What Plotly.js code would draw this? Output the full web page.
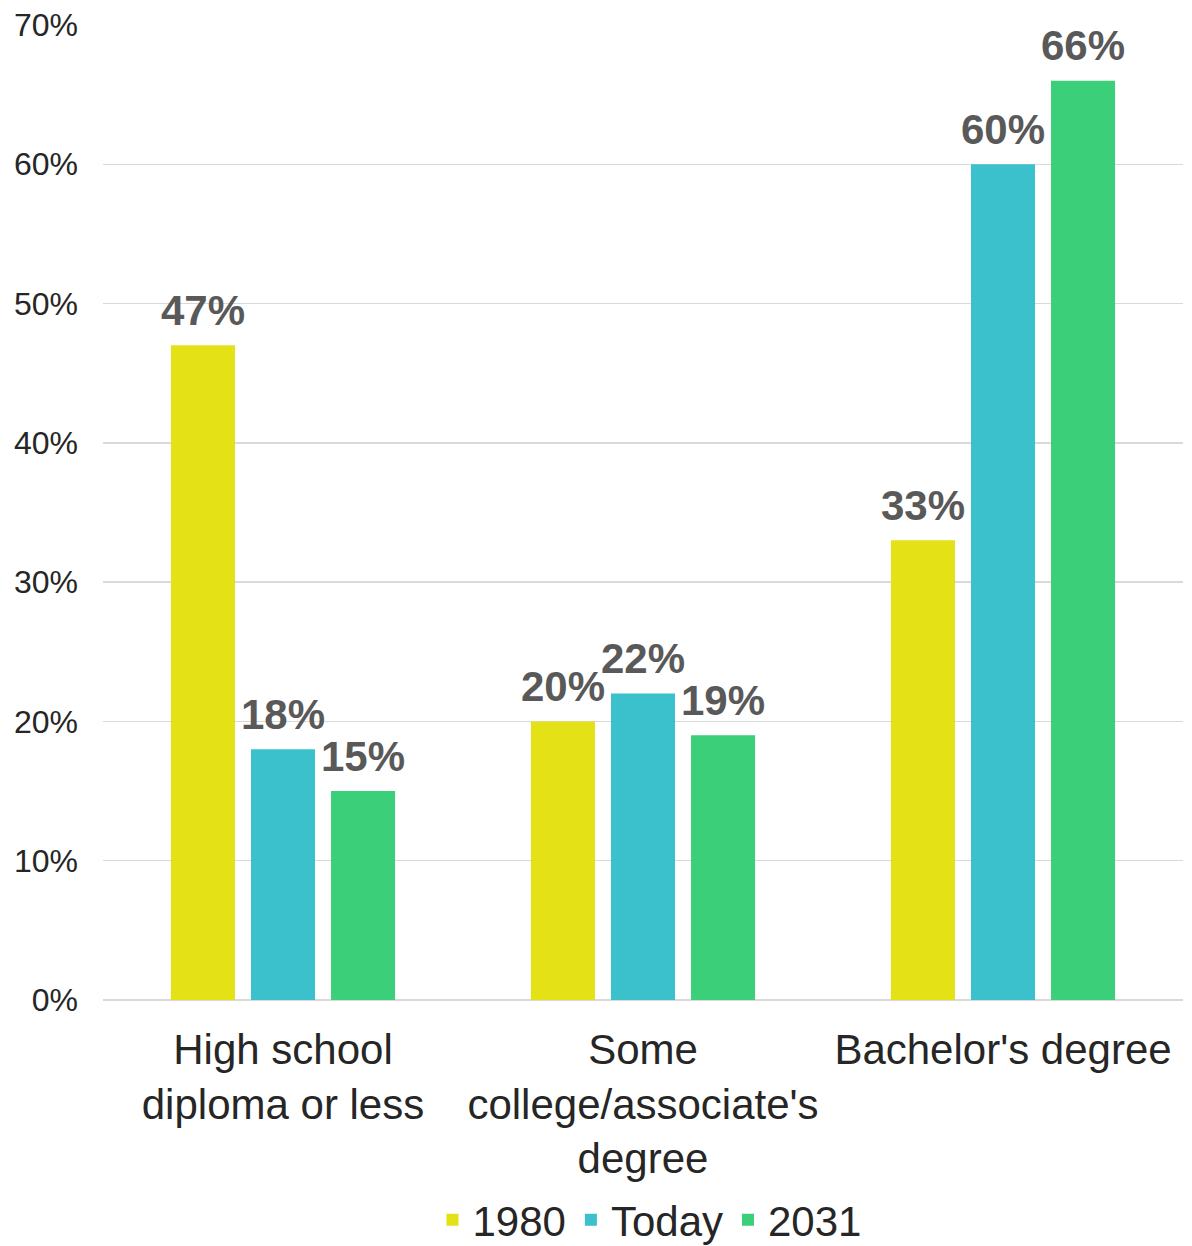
<!DOCTYPE html>
<html>
<head>
<meta charset="utf-8">
<script src="https://cdn.plot.ly/plotly-3.0.1.min.js"></script>
<style>html,body{margin:0;padding:0;background:#fff;}</style>
</head>
<body>
<div id="chart" style="width:1192px;height:1246px;"></div>
<script>
const categories = ["High school<br>diploma or less", "Some<br>college/associate's<br>degree", "Bachelor's degree"];
const seriesNames = ["1980", "Today", "2031"];
const values1980 = [47, 20, 33];
const valuesToday = [18, 22, 60];
const values2031 = [15, 19, 66];
const colors = ["#E4E117", "#3AC1CC", "#3BCF79"];
const yTickVals = [0, 10, 20, 30, 40, 50, 60, 70];

const allValues = [values1980, valuesToday, values2031];
const barTraces = allValues.map((vals, i) => ({
  type: 'bar',
  name: seriesNames[i],
  x: categories,
  y: vals,
  offsetgroup: String(i),
  marker: {color: colors[i]},
  hoverinfo: 'x+y'
}));
const labelTraces = allValues.map((vals, i) => ({
  type: 'scatter',
  mode: 'markers+text',
  name: seriesNames[i] + ' labels',
  showlegend: false,
  x: categories,
  y: vals,
  offsetgroup: String(i),
  text: vals.map(v => v + '%'),
  textposition: 'top center',
  cliponaxis: false,
  marker: {size: 14, opacity: 0, color: colors[i]},
  textfont: {family: 'Liberation Sans, Arial, sans-serif', size: 42, color: '#595959', weight: 'bold'},
  hoverinfo: 'skip'
}));

const layout = {
  width: 1192,
  height: 1246,
  margin: {l: 103, r: 9, t: 25, b: 246, autoexpand: false},
  paper_bgcolor: '#ffffff',
  plot_bgcolor: '#ffffff',
  font: {family: 'Liberation Sans, Arial, sans-serif', color: '#262626'},
  barmode: 'group',
  bargap: 0.333,
  bargroupgap: 0.2,
  scattermode: 'group',
  scattergap: 0.333,
  showlegend: true,
  legend: {
    orientation: 'h',
    x: 0.506, xanchor: 'center',
    y: -0.2256, yanchor: 'middle',
    font: {size: 42, color: '#262626'},
    traceorder: 'normal'
  },
  xaxis: {
    type: 'category',
    tickfont: {size: 42, color: '#262626'},
    showgrid: false,
    showline: false,
    ticks: '',
    ticklabelstandoff: 21
  },
  yaxis: {
    range: [0, 70],
    tickvals: yTickVals,
    ticktext: yTickVals.map(v => v + '%'),
    tickfont: {size: 32, color: '#262626'},
    showgrid: true,
    gridcolor: '#D9D9D9',
    gridwidth: 1.5,
    zeroline: true,
    zerolinecolor: '#D9D9D9',
    zerolinewidth: 2,
    showline: false,
    ticks: '',
    ticklabelstandoff: 24,
    fixedrange: true
  }
};

Plotly.newPlot('chart', barTraces.concat(labelTraces), layout, {displayModeBar: false, staticPlot: true});
</script>
</body>
</html>
